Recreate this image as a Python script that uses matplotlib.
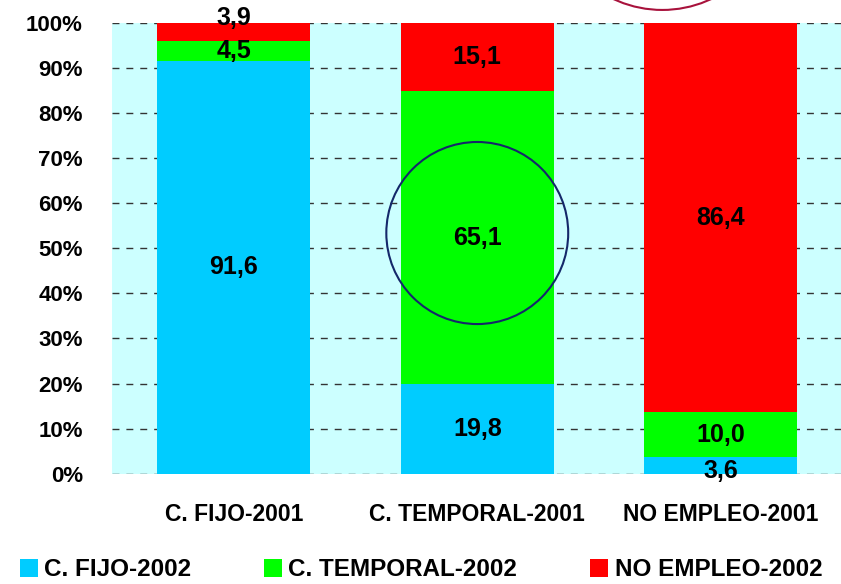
import matplotlib
matplotlib.use("Agg")
import matplotlib.pyplot as plt
from matplotlib.patches import Ellipse, Patch
import numpy as np

plt.rcParams['font.family'] = ['Liberation Sans', 'DejaVu Sans']
plt.rcParams['font.weight'] = 'bold'

categories = ['C. FIJO-2001', 'C. TEMPORAL-2001', 'NO EMPLEO-2001']
series_names = ['C. FIJO-2002', 'C. TEMPORAL-2002', 'NO EMPLEO-2002']
fijo_2002 = [91.6, 19.8, 3.6]
temporal_2002 = [4.5, 65.1, 10.0]
no_empleo_2002 = [3.9, 15.1, 86.4]
colors = ['#00CCFF', '#00FF00', '#FF0000']

fig = plt.figure(figsize=(8.41, 5.84), dpi=100)
ax = fig.add_axes([0.1332, 0.1889, 0.8686, 0.7717])
ax.set_facecolor('#CCFFFF')

x = np.arange(len(categories))
bottom = np.zeros(len(categories))
for vals, col in zip([fijo_2002, temporal_2002, no_empleo_2002], colors):
    vals = np.array(vals)
    ax.bar(x, vals, bottom=bottom, width=0.63, color=col, zorder=3)
    for xi, b, v in zip(x, bottom, vals):
        # small segments at the edges get nudged like in the original
        off = 0
        if v < 4 and b + v >= 99.9:
            off = 10
        elif v < 4 and b == 0:
            off = -4
        ax.annotate(f"{v:.1f}".replace('.', ','), xy=(xi, b + v / 2),
                    xytext=(0, off), textcoords='offset points',
                    ha='center', va='center', fontsize=18,
                    fontweight='bold', zorder=5, annotation_clip=False)
    bottom += vals

ax.set_xlim(-0.5, 2.5)
ax.set_ylim(0, 100)
ax.set_yticks(np.arange(0, 101, 10))
ax.set_yticklabels([f"{t}%" for t in range(0, 101, 10)], fontsize=16)
ax.set_xticks(x)
ax.set_xticklabels(categories, fontsize=16.5)
ax.tick_params(axis='both', length=0)
ax.tick_params(axis='x', pad=21)
ax.tick_params(axis='y', pad=21)
ax.yaxis.grid(True, linestyle=(0, (5, 5)), color='#333333', linewidth=1, zorder=1)
ax.set_axisbelow(True)
for s in ax.spines.values():
    s.set_visible(False)

# highlight circles
ax.add_patch(Ellipse((1.0, 53.4), 0.747, 40.4, fill=False, edgecolor='#14286A',
                     linewidth=1.5, zorder=6))
ax.add_patch(Ellipse((1.76, 128.4), 0.945, 51.0, fill=False, edgecolor='#A8123C',
                     linewidth=1.5, zorder=6, clip_on=False))

handles = [Patch(facecolor=c, edgecolor='none') for c in colors]
fig.legend(handles, series_names, loc='lower left', bbox_to_anchor=(0.012, -0.012),
           ncol=3, frameon=False, fontsize=17.5, handlelength=0.75, handleheight=0.75,
           handletextpad=0.25, columnspacing=3.0, borderaxespad=0)

fig.savefig('out.png', dpi=100)
